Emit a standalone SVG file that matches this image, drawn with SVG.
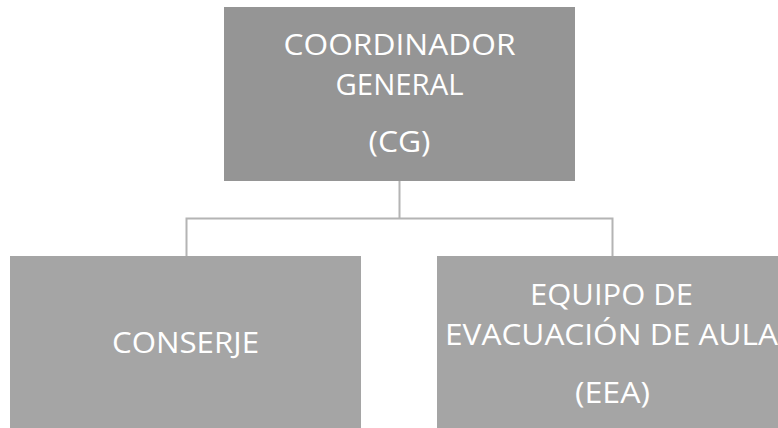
<svg xmlns="http://www.w3.org/2000/svg" width="778" height="428" viewBox="0 0 778 428">
<style>
.t{font-family:"Open Sans","Liberation Sans",sans-serif;font-size:30px;fill:#ffffff;text-anchor:middle}
.c{fill:none;stroke:#b4b4b4;stroke-width:2}
</style>
<rect width="778" height="428" fill="#ffffff"/>
<g id="connectors">
<path class="c" d="M399.5 181 V218.5 M186.5 256 V218.5 H612.5 V256"/>
</g>
<g id="node-cg">
<rect x="224" y="7" width="351" height="174" fill="#959595"/>
<text class="t" x="399.5" y="55" textLength="232" lengthAdjust="spacingAndGlyphs">COORDINADOR</text>
<text class="t" x="399.5" y="95" textLength="128" lengthAdjust="spacingAndGlyphs">GENERAL</text>
<text class="t" x="399.5" y="152" textLength="62" lengthAdjust="spacingAndGlyphs">(CG)</text>
</g>
<g id="node-conserje">
<rect x="10" y="256" width="351" height="172" fill="#a5a5a5"/>
<text class="t" x="185.5" y="353" textLength="147" lengthAdjust="spacingAndGlyphs">CONSERJE</text>
</g>
<g id="node-eea">
<rect x="437" y="256" width="350" height="172" fill="#a5a5a5"/>
<text class="t" x="611.5" y="305" textLength="163" lengthAdjust="spacingAndGlyphs">EQUIPO DE</text>
<text class="t" x="611.5" y="345" textLength="333" lengthAdjust="spacingAndGlyphs">EVACUACIÓN DE AULA</text>
<text class="t" x="612.5" y="403" textLength="75" lengthAdjust="spacingAndGlyphs">(EEA)</text>
</g>
</svg>
